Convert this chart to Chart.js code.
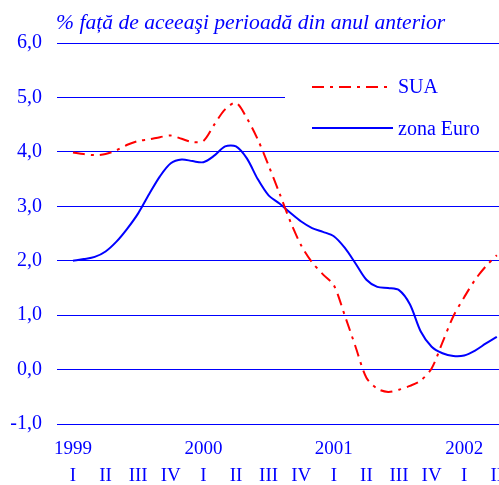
<!DOCTYPE html>
<html><head><meta charset="utf-8">
<script src="https://cdn.jsdelivr.net/npm/chart.js@4"></script>
<style>html,body{margin:0;padding:0;background:#fff;} canvas{display:block;}</style>
</head><body>
<canvas id="c" width="499" height="485"></canvas>
<script>
const titleText = '% față de aceeaşi perioadă din anul anterior';
const seriesNames = ['SUA', 'zona Euro'];
// monthly values, Jan 1999 .. Apr 2002
const sua = [3.99,3.96,3.94,3.96,4.03,4.13,4.2,4.23,4.27,4.3,4.24,4.18,4.2,4.5,4.78,4.9,4.62,4.23,3.75,3.24,2.72,2.28,1.97,1.75,1.55,1.0,0.42,-0.15,-0.35,-0.41,-0.37,-0.3,-0.2,0.02,0.5,0.98,1.33,1.65,1.9,2.1];
const zonaEuro = [2.0,2.03,2.07,2.17,2.35,2.59,2.87,3.22,3.55,3.79,3.86,3.83,3.81,3.93,4.1,4.1,3.88,3.5,3.2,3.05,2.88,2.72,2.6,2.53,2.45,2.24,1.95,1.65,1.52,1.5,1.46,1.2,0.7,0.42,0.3,0.25,0.26,0.35,0.48,0.6];
const quarterLabels = ['I','II','III','IV','I','II','III','IV','I','II','III','IV','I','II'];
const yearLabels = ['1999','2000','2001','2002'];
const yTicks = [-1,0,1,2,3,4,5,6];

const BLUE = '#0000ff', RED = '#ff0000';
const FONT = '"Liberation Serif", "Times New Roman", serif';
const toPts = arr => arr.map((v, i) => ({x: i, y: v}));
const quarterPos = quarterLabels.map((_, k) => k * 3);

const decor = {
  id: 'decor',
  beforeDatasetsDraw(chart) {
    const ctx = chart.ctx; ctx.save();
    ctx.fillStyle = '#fff'; ctx.fillRect(285, 58, 214, 84);
    ctx.restore();
  },
  afterDraw(chart) {
    const ctx = chart.ctx; ctx.save();
    ctx.font = 'italic 21.6px ' + FONT; ctx.fillStyle = BLUE; ctx.textBaseline = 'alphabetic';
    ctx.fillText(titleText, 56, 29);
    const ys = [87, 128], ends = [389, 393], offs = [6, 7];
    chart.data.datasets.forEach((ds, k) => {
      ctx.beginPath(); ctx.strokeStyle = ds.borderColor; ctx.lineWidth = ds.borderWidth;
      ctx.setLineDash(ds.borderDash || []);
      ctx.moveTo(312, ys[k]); ctx.lineTo(ends[k], ys[k]); ctx.stroke();
      ctx.setLineDash([]);
      ctx.font = '20px ' + FONT; ctx.fillStyle = BLUE;
      ctx.fillText(ds.label, 398, ys[k] + offs[k]);
    });
    ctx.restore();
  }
};

new Chart(document.getElementById('c'), {
  type: 'line',
  data: {
    datasets: [
      {label: seriesNames[0], data: toPts(sua), borderColor: RED, borderWidth: 2, borderDash: [12, 6, 3, 6], pointRadius: 0, tension: 0.3, fill: false},
      {label: seriesNames[1], data: toPts(zonaEuro), borderColor: BLUE, borderWidth: 2, pointRadius: 0, tension: 0.3, fill: false}
    ]
  },
  options: {
    responsive: false, animation: false, devicePixelRatio: 1,
    layout: {padding: {top: 43, left: 0, right: 0, bottom: 0}},
    plugins: {legend: {display: false}, tooltip: {enabled: false}, title: {display: false}},
    scales: {
      x: {
        type: 'linear', min: -1.47, max: 39.2,
        grid: {display: false, drawTicks: false}, border: {display: false},
        afterBuildTicks: s => { s.ticks = quarterPos.map(v => ({value: v})); },
        afterFit: s => { s.height = 61; s.paddingLeft = 0; s.paddingRight = 0; },
        ticks: {
          autoSkip: false, maxRotation: 0, minRotation: 0, padding: 12, color: BLUE,
          font: {family: FONT, size: 19, lineHeight: 1.42},
          callback: (v, i) => (i % 4 === 0 ? [yearLabels[i / 4], quarterLabels[i]] : ['', quarterLabels[i]])
        }
      },
      y: {
        min: -1, max: 6,
        afterBuildTicks: s => { s.ticks = yTicks.map(v => ({value: v})); },
        afterFit: s => { s.width = 57; },
        grid: {color: BLUE, lineWidth: 1, drawTicks: false},
        border: {display: false},
        ticks: {padding: 15, color: BLUE, font: {family: FONT, size: 20}, callback: v => v.toFixed(1).replace('.', ',')}
      }
    }
  },
  plugins: [decor]
});
</script>
</body></html>
